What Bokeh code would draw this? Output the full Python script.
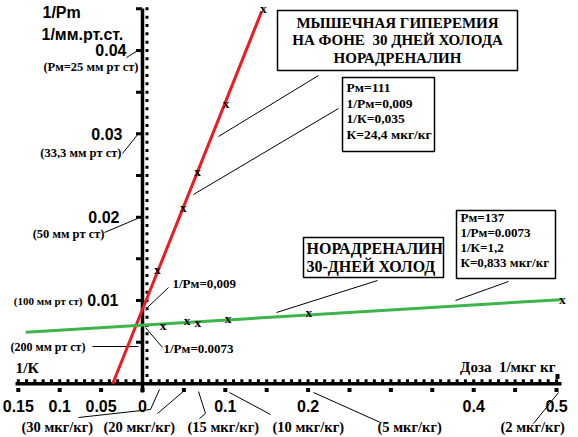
import numpy as np
from bokeh.plotting import figure
from bokeh.models import Range1d
from bokeh.core.properties import value
from bokeh.embed import file_html
from bokeh.resources import INLINE

# ---------------- data ----------------
red_dose_inv = [0.018, 0.0495, 0.0665, 0.101, 0.146]
red_inv_pm = [0.0137, 0.0212, 0.0255, 0.0336, 0.0450]
green_dose_inv = [0.025, 0.054, 0.067, 0.1035, 0.201, 0.507]
green_inv_pm = [0.0070, 0.0076, 0.0073, 0.0078, 0.0085, 0.0101]
red_fit_x = [-0.036, 0.144]
red_fit_y = [0.0, 0.0447]
green_fit_x = [-0.141, 0.505]
green_fit_y = [0.0062, 0.0101]

x_tick_values = [-0.15, -0.1, -0.05, 0.0, 0.1, 0.2, 0.4, 0.5]
x_tick_labels = ["0.15", "0.1", "0.05", "0", "0.1", "0.2", "0.4", "0.5"]
y_tick_values = [0.01, 0.02, 0.03, 0.04]
y_tick_labels = ["0.01", "0.02", "0.03", "0.04"]
y_pressure_labels = ["(100 мм рт ст)", "(50 мм рт ст)", "(33,3 мм рт ст)", "(Рм=25 мм рт ст)"]
dose_labels = ["(30 мкг/кг)", "(20 мкг/кг)", "(15 мкг/кг)", "(10 мкг/кг)", "(5 мкг/кг)", "(2 мкг/кг)"]

title_lines = ["МЫШЕЧНАЯ ГИПЕРЕМИЯ", "НА ФОНЕ\u00a0 30 ДНЕЙ ХОЛОДА", "НОРАДРЕНАЛИН"]
red_box_lines = ["Рм=111", "1/Рм=0,009", "1/К=0,035", "К=24,4 мкг/кг"]
green_title_lines = ["НОРАДРЕНАЛИН", "30-ДНЕЙ ХОЛОД"]
green_box_lines = ["Рм=137", "1/Рм=0.0073", "1/К=1,2", "К=0,833 мкг/кг"]

# ---------------- layout helpers (reference pixel -> data) ----------------
PX0, SX = 142.0, 828.0
PY0, SY = 383.3, 8333.0
W, H = 578, 437


def tx(px):
    return (px - PX0) / SX


def ty(py):
    return (PY0 - py) / SY


SERIF = "Liberation Serif"
SANS = "Liberation Sans"
RED = "#ec1c24"
GREEN = "#3db54a"

p = figure(width=W, height=H, output_backend="svg", toolbar_location=None,
           x_range=Range1d(tx(0), tx(W)), y_range=Range1d(ty(H), ty(0)),
           min_border=0, x_axis_type=None, y_axis_type=None)
p.xgrid.visible = False
p.ygrid.visible = False
p.outline_line_color = None
p.background_fill_color = "white"
p.border_fill_color = "white"


def T(txt, rx, ry, size, font=SERIF, align="left"):
    p.text(x=[tx(rx)], y=[ty(ry)], text=[txt], text_font=value(font),
           text_font_size=f"{size}px", text_font_style="bold",
           text_align=align, text_baseline="middle", text_color="black")


def L(pts, w=1.0):
    p.line([tx(a) for a, b in pts], [ty(b) for a, b in pts], line_color="black", line_width=w)


# ---------------- axes ----------------
p.line([tx(15), tx(561)], [0, 0], line_color="black", line_width=3.5)
p.line([0, 0], [ty(392), ty(8)], line_color="black", line_width=3.5)

xm = np.round(np.arange(-0.15, 0.5001, 0.01), 3)
p.rect(x=xm, y=[ty(380.3)] * len(xm), width=3, height=3, width_units="screen",
       height_units="screen", fill_color="black", line_color=None)
xM = np.round(np.arange(-0.15, 0.5001, 0.05), 3)
p.rect(x=xM, y=[ty(389.5)] * len(xM), width=4, height=4, width_units="screen",
       height_units="screen", fill_color="black", line_color=None)
p.rect(x=[tx(557)], y=[ty(376)], width=4, height=5, width_units="screen",
       height_units="screen", fill_color="black", line_color=None)
ym = np.round(np.arange(0.001, 0.0451, 0.001), 4)
p.rect(x=[tx(146.5)] * len(ym), y=ym, width=3, height=3, width_units="screen",
       height_units="screen", fill_color="black", line_color=None)
yM = np.round(np.arange(0.005, 0.0451, 0.005), 4)
p.rect(x=[tx(138.5)] * len(yM), y=yM, width=6, height=3, width_units="screen",
       height_units="screen", fill_color="black", line_color=None)

# tick labels
p.text(x=x_tick_values, y=[ty(405)] * len(x_tick_values), text=x_tick_labels,
       text_font=value(SANS), text_font_size="16px", text_font_style="bold",
       text_align="center", text_baseline="middle", text_color="black")
y_label_right = [118, 119, 122, 126]
for v, lab, rx in zip(y_tick_values, y_tick_labels, y_label_right):
    p.text(x=[tx(rx)], y=[v], text=[lab], text_font=value(SANS), text_font_size="16px",
           text_font_style="bold", text_align="right", text_baseline="middle",
           text_color="black")

# pressure labels on y axis
press_pos = [(82, 300, 11), (104, 233, 12.5), (121, 152, 12.5), (138, 66, 12.5)]
for lab, (rx, ry, s) in zip(y_pressure_labels, press_pos):
    T(lab, rx, ry, s, align="right")
T("(200 мм рт ст)", 85, 346, 12, align="right")
L([(92, 346), (138, 346)])
L([(104, 232), (137, 218)])
L([(122, 153), (138, 133)])
L([(126, 57), (139, 49)])

T("1/Pm", 42, 12, 16, font=SANS)
T("1/мм.рт.ст.", 41, 34, 16, font=SANS)
T("1/К", 15, 367, 15.5)
T("Доза\u00a0 1/мкг кг", 555, 366, 15, align="right")

# dose labels below x axis
dose_pos = [21, 103, 187, 272, 377, 500]
for lab, rx in zip(dose_labels, dose_pos):
    T(lab, rx, 426, 14.5)
L([(159, 389), (150, 409), (78, 417)])
L([(184, 390), (157, 413)])
L([(198, 391), (205, 413), (199, 418)])
L([(229, 392), (270, 414)])
L([(313, 392), (380, 422)])
L([(558, 392), (533, 423)])

# ---------------- series ----------------
p.line(red_fit_x, red_fit_y, line_color=RED, line_width=3)
p.line(green_fit_x, green_fit_y, line_color=GREEN, line_width=3)
p.text(x=red_dose_inv, y=red_inv_pm, text=value("x"), text_font=value(SERIF),
       text_font_size="13.5px", text_font_style="bold", text_align="center",
       text_baseline="middle", text_color="black")
p.text(x=green_dose_inv, y=green_inv_pm, text=value("x"), text_font=value(SERIF),
       text_font_size="13.5px", text_font_style="bold", text_align="center",
       text_baseline="middle", text_color="black")

# intercept annotations
T("1/Рм=0,009", 172, 283, 13)
L([(168, 287), (147, 307)])
T("1/Рм=0.0073", 163, 348, 13)
L([(162, 347), (145, 327)])

# ---------------- boxes ----------------
L([(318, 75), (218, 136)])
L([(338, 108), (193, 194)])
L([(377, 280), (276, 312)])
L([(508, 281), (455, 300)])


def box(x0, y0, x1, y1):
    p.quad(left=[tx(x0)], right=[tx(x1)], top=[ty(y0)], bottom=[ty(y1)],
           fill_color="white", line_color="black", line_width=1.5)


box(277, 10, 517, 70)
for i, s in enumerate(title_lines):
    T(s, 397, 22 + i * 17.8, 15, align="center")
box(342, 77, 434, 151)
for i, s in enumerate(red_box_lines):
    T(s, 346, 87 + i * 15.7, 13.5)
box(303, 237, 443, 277)
for i, s in enumerate(green_title_lines):
    T(s, 306, 247.5 + i * 18.5, 16)
box(456, 210, 555, 278)
for i, s in enumerate(green_box_lines):
    T(s, 460, 217 + i * 15, 13)

open("out.html", "w").write(file_html(p, INLINE))
